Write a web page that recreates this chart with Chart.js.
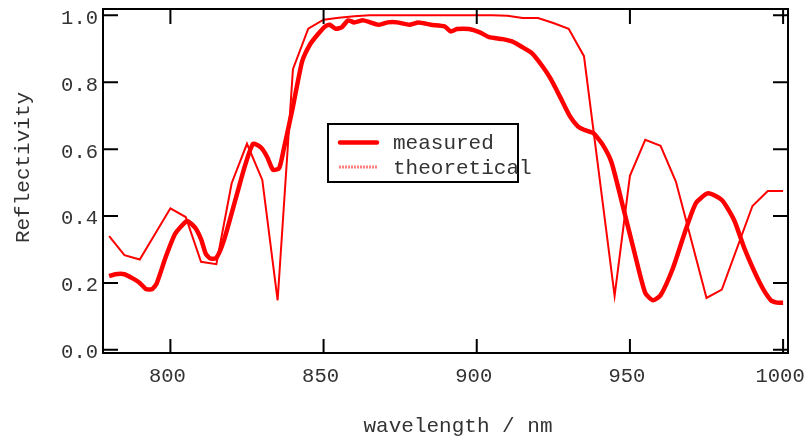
<!DOCTYPE html>
<html>
<head>
<meta charset="utf-8">
<script src="https://cdn.jsdelivr.net/npm/chart.js@4/dist/chart.umd.min.js"></script>
<style>
  body { margin: 0; background: #fff; }
  #wrap { width: 805px; height: 436px; position: relative; }
</style>
</head>
<body>
<div id="wrap"><canvas id="grafico"></canvas></div>
<script>
// datos
const nmMedido = [780, 782, 785, 788, 790, 792, 794, 795.5, 798.5, 801.5, 804, 805.5, 808, 810, 811.5, 813, 815, 817.5,
  821.5, 824.5, 827, 829.5, 831.5, 833.5, 835.5, 837, 840, 843, 845.5, 848, 850.5, 852, 854, 856, 858, 860, 863,
  868, 871, 874, 878, 881, 885, 889.5, 891.5, 893.5, 897.5, 901, 904, 908.5, 911.5, 914.5, 918, 921.5, 924, 927,
  930.5, 933, 935, 938, 941, 944, 948, 951.5, 955, 957.5, 960, 964, 968, 971.5, 975.5, 980, 984, 987.5, 992.5,
  996, 998, 1000];
const rMedido = [0.220, 0.226, 0.226, 0.212, 0.200, 0.182, 0.181, 0.198, 0.278, 0.346, 0.374, 0.385, 0.366, 0.331, 0.288, 0.273, 0.275, 0.328,
  0.458, 0.555, 0.616, 0.605, 0.578, 0.538, 0.543, 0.600, 0.727, 0.862, 0.912, 0.942, 0.967, 0.972, 0.960, 0.965, 0.985, 0.979, 0.985,
  0.972, 0.979, 0.979, 0.972, 0.979, 0.972, 0.967, 0.952, 0.959, 0.959, 0.949, 0.935, 0.929, 0.922, 0.907, 0.887, 0.847, 0.812, 0.760,
  0.697, 0.668, 0.658, 0.648, 0.615, 0.560, 0.418, 0.290, 0.170, 0.148, 0.163, 0.243, 0.353, 0.438, 0.468, 0.448, 0.388, 0.300, 0.198,
  0.148, 0.141, 0.141];

const nmTeorico = [780, 785, 790, 800, 805, 810, 815, 820, 825, 830, 835, 840, 845, 850, 855, 860, 865, 880, 895, 905, 910,
  915, 920, 925, 930, 935, 945, 950, 955, 960, 965, 975, 980, 990, 995, 1000];
const rTeorico = [0.340, 0.283, 0.270, 0.423, 0.397, 0.263, 0.256, 0.498, 0.616, 0.508, 0.148, 0.839, 0.960, 0.987, 0.993, 0.997, 1.0, 1.0, 1.0, 1.0, 0.999,
  0.992, 0.992, 0.977, 0.960, 0.878, 0.161, 0.520, 0.628, 0.610, 0.503, 0.155, 0.180, 0.430, 0.475, 0.475];

const ticksX = [800, 850, 900, 950, 1000];
const ticksY = [0, 0.2, 0.4, 0.6, 0.8, 1.0];
const etiquetasY = ['0.0', '0.2', '0.4', '0.6', '0.8', '1.0'];

const fuente = '21px "Liberation Mono", "DejaVu Sans Mono", monospace';
const fuenteTicks = '20.5px "Liberation Mono", "DejaVu Sans Mono", monospace';

// ejes, marco, titulos y leyenda dibujados a mano (ticks hacia adentro)
const marcoPlugin = {
  id: 'marco',
  afterDraw(chart) {
    const ctx = chart.ctx;
    const a = chart.chartArea;
    const sx = chart.scales.x;
    const sy = chart.scales.y;
    ctx.save();
    ctx.strokeStyle = '#000';
    ctx.lineWidth = 2;
    ctx.strokeRect(a.left, a.top, a.right - a.left, a.bottom - a.top);

    ctx.font = fuenteTicks;
    ctx.fillStyle = '#333';
    ctx.textAlign = 'center';
    ctx.textBaseline = 'middle';
    ticksX.forEach(v => {
      const px = sx.getPixelForValue(v);
      ctx.beginPath();
      ctx.moveTo(px, a.bottom); ctx.lineTo(px, a.bottom - 14);
      ctx.moveTo(px, a.top); ctx.lineTo(px, a.top + 15);
      ctx.stroke();
      ctx.fillText(String(v), px - 3, a.bottom + 24);
    });
    ctx.textAlign = 'right';
    ticksY.forEach((v, i) => {
      const py = sy.getPixelForValue(v);
      ctx.beginPath();
      ctx.moveTo(a.left, py); ctx.lineTo(a.left + 15, py);
      ctx.moveTo(a.right, py); ctx.lineTo(a.right - 15, py);
      ctx.stroke();
      ctx.fillText(etiquetasY[i], a.left - 5, py + 3);
    });

    // titulos
    ctx.font = fuente;
    ctx.textAlign = 'center';
    ctx.fillText('wavelength / nm', 458, 426);
    ctx.save();
    ctx.translate(23.5, 167.5);
    ctx.rotate(-Math.PI / 2);
    ctx.fillText('Reflectivity', 0, 0);
    ctx.restore();

    // leyenda
    ctx.fillStyle = '#fff';
    ctx.fillRect(328, 124, 190, 58);
    ctx.strokeStyle = '#000';
    ctx.lineWidth = 2;
    ctx.strokeRect(328, 124, 190, 58);
    ctx.lineCap = 'round';
    ctx.strokeStyle = '#ff0000';
    ctx.lineWidth = 4.5;
    ctx.beginPath(); ctx.moveTo(340, 142.5); ctx.lineTo(377, 142.5); ctx.stroke();
    ctx.lineCap = 'butt';
    ctx.strokeStyle = 'rgba(255, 0, 0, 0.5)';
    ctx.lineWidth = 3;
    ctx.setLineDash([2, 1]);
    ctx.beginPath(); ctx.moveTo(339, 167); ctx.lineTo(378, 167); ctx.stroke();
    ctx.setLineDash([]);
    ctx.fillStyle = '#333';
    ctx.textAlign = 'left';
    ctx.fillText('measured', 393, 143);
    ctx.fillText('theoretical', 393, 168);
    ctx.restore();
  }
};

const ctx = document.getElementById('grafico');
new Chart(ctx, {
  type: 'line',
  data: {
    datasets: [
      {
        label: 'measured',
        data: nmMedido.map((x, i) => ({ x: x, y: rMedido[i] })),
        borderColor: '#ff0000',
        borderWidth: 4.5,
        pointRadius: 0,
        tension: 0.2,
        borderJoinStyle: 'round',
        fill: false
      },
      {
        label: 'theoretical',
        data: nmTeorico.map((x, i) => ({ x: x, y: rTeorico[i] })),
        borderColor: '#ff0000',
        borderWidth: 2,
        pointRadius: 0,
        tension: 0,
        fill: false
      }
    ]
  },
  options: {
    responsive: true,
    maintainAspectRatio: false,
    animation: false,
    layout: { padding: { left: 103, top: 9, right: 17, bottom: 83 } },
    plugins: {
      legend: { display: false },
      tooltip: { enabled: false }
    },
    scales: {
      x: { type: 'linear', min: 778, max: 1001.6, display: false },
      y: { min: -0.0096, max: 1.019, display: false }
    }
  },
  plugins: [marcoPlugin]
});
</script>
</body>
</html>
